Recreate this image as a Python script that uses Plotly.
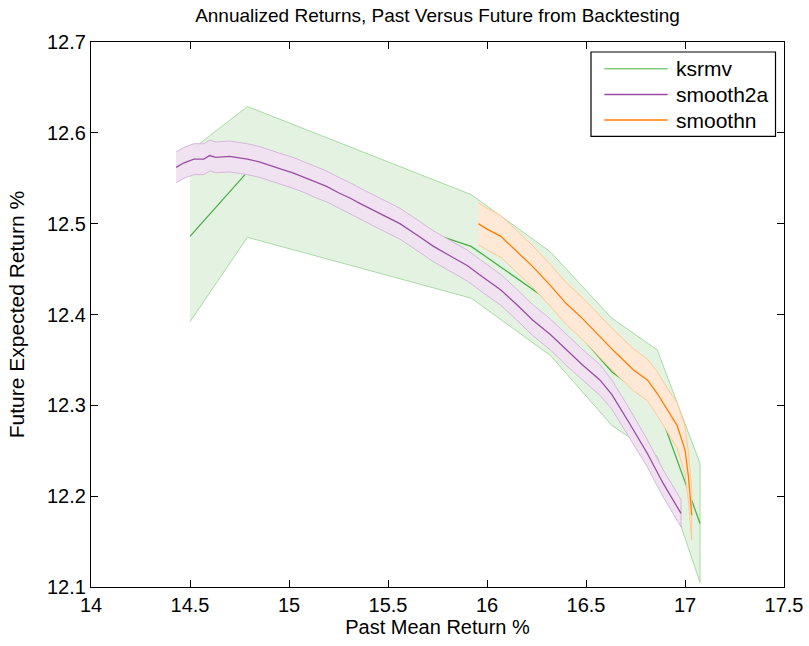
import plotly.graph_objects as go

# ---- data ----
ks_x = [14.50, 14.79, 15.92, 16.32, 16.63, 16.86, 17.076]
ks_y = [12.486, 12.557, 12.475, 12.414, 12.337, 12.300, 12.170]
ks_hi = [12.580, 12.629, 12.532, 12.469, 12.396, 12.361, 12.236]
ks_lo = [12.392, 12.485, 12.418, 12.355, 12.278, 12.244, 12.105]

s2_x = [14.43, 14.47, 14.52, 14.57, 14.60, 14.63, 14.70, 14.79, 14.85, 14.90,
        14.96, 15.02, 15.08, 15.13, 15.19, 15.25, 15.31, 15.36, 15.45, 15.56,
        15.65, 15.73, 15.81, 15.90, 15.98, 16.07, 16.15, 16.23, 16.32, 16.40,
        16.48, 16.57, 16.63, 16.72, 16.81, 16.89, 16.98]
s2_y = [12.562, 12.567, 12.571, 12.571, 12.575, 12.573, 12.574, 12.571, 12.568, 12.564,
        12.560, 12.556, 12.551, 12.546, 12.541, 12.534, 12.528, 12.522, 12.512, 12.500,
        12.487, 12.475, 12.465, 12.454, 12.441, 12.427, 12.411, 12.394, 12.378, 12.361,
        12.345, 12.328, 12.312, 12.280, 12.247, 12.214, 12.181]
s2_err = [0.017, 0.017, 0.017, 0.017, 0.017, 0.017, 0.017, 0.017, 0.017, 0.017,
          0.017, 0.017, 0.017, 0.017, 0.017, 0.017, 0.017, 0.017, 0.017, 0.017,
          0.017, 0.017, 0.017, 0.017, 0.017, 0.017, 0.017, 0.017, 0.017, 0.017,
          0.017, 0.017, 0.016, 0.016, 0.015, 0.015, 0.015]

sn_x = [15.956, 16.00, 16.07, 16.15, 16.23, 16.32, 16.40, 16.48, 16.57, 16.64,
        16.74, 16.81, 16.86, 16.91, 16.96, 17.00, 17.017, 17.034]
sn_y = [12.500, 12.494, 12.486, 12.470, 12.453, 12.432, 12.412, 12.396, 12.376, 12.360,
        12.339, 12.328, 12.313, 12.295, 12.278, 12.251, 12.222, 12.179]
sn_err = [0.023, 0.023, 0.023, 0.023, 0.023, 0.023, 0.023, 0.023, 0.023, 0.023,
          0.023, 0.023, 0.024, 0.024, 0.025, 0.026, 0.027, 0.027]

x_ticks = [14, 14.5, 15, 15.5, 16, 16.5, 17, 17.5]
x_tick_labels = ["14", "14.5", "15", "15.5", "16", "16.5", "17", "17.5"]
y_ticks = [12.1, 12.2, 12.3, 12.4, 12.5, 12.6, 12.7]
y_tick_labels = ["12.1", "12.2", "12.3", "12.4", "12.5", "12.6", "12.7"]

series_names = ["ksrmv", "smooth2a", "smoothn"]
line_colors = ["#4daf4a", "#984ea3", "#ff7f00"]
fill_colors = ["#e3f2e1", "#f0e2f1", "#ffe8d5"]
edge_colors = ["#a9dba5", "#d7b8dc", "#ffc995"]
legend_colors = ["#80cc80", "#984ea3", "#ff7f00"]

series = [
    (ks_x, ks_y, ks_hi, ks_lo),
    (s2_x, s2_y, [a + b for a, b in zip(s2_y, s2_err)], [a - b for a, b in zip(s2_y, s2_err)]),
    (sn_x, sn_y, [a + b for a, b in zip(sn_y, sn_err)], [a - b for a, b in zip(sn_y, sn_err)]),
]

FONT = "Liberation Sans, Arial, sans-serif"
fig = go.Figure()
for i, (xs, ys, hi, lo) in enumerate(series):
    fig.add_trace(go.Scatter(
        x=list(xs) + list(xs)[::-1], y=list(hi) + list(lo)[::-1],
        fill="toself", fillcolor=fill_colors[i], mode="lines",
        line=dict(color=edge_colors[i], width=1), showlegend=False, hoverinfo="skip"))
    fig.add_trace(go.Scatter(x=xs, y=ys, mode="lines", name=series_names[i],
                             line=dict(color=line_colors[i], width=1.3), showlegend=False))

W, H = 809, 646
L, R, T, B = 91, 784, 42, 587  # plot-area edges in pixels
def px(v):
    return (v - L) / (R - L)
def py(v):
    return (B - v) / (B - T)

# legend box
fig.add_shape(type="rect", xref="paper", yref="paper",
              x0=px(591), x1=px(775.5), y0=py(136.3), y1=py(52),
              line=dict(color="black", width=1.2), fillcolor="white", layer="above")
rows = [68.7, 94.5, 120.0]
for i, name in enumerate(series_names):
    fig.add_shape(type="line", xref="paper", yref="paper",
                  x0=px(604.3), x1=px(667.7), y0=py(rows[i]), y1=py(rows[i]),
                  line=dict(color=legend_colors[i], width=1.5), layer="above")
    fig.add_annotation(xref="paper", yref="paper", x=px(674), y=py(rows[i]),
                       text=name, showarrow=False, xanchor="left", yanchor="middle",
                       font=dict(family=FONT, size=21, color="black"))

axis_common = dict(showline=True, linecolor="black", linewidth=1.3, mirror="ticks",
                   ticks="inside", ticklen=7, tickcolor="black", tickwidth=1,
                   showgrid=False, zeroline=False, automargin=False,
                   tickfont=dict(family=FONT, size=20, color="black"))

fig.update_layout(
    width=W, height=H,
    margin=dict(l=L, r=W - R, t=T, b=H - B),
    paper_bgcolor="white", plot_bgcolor="white",
    font=dict(family=FONT, size=20, color="black"),
    showlegend=False,
    title=dict(text="Annualized Returns, Past Versus Future from Backtesting",
               x=((L + R) / 2) / W, xanchor="center", y=1 - 15 / H, yanchor="middle",
               yref="container", font=dict(family=FONT, size=19, color="black")),
    xaxis=dict(range=[14, 17.5], tickvals=x_ticks, ticktext=x_tick_labels,
               title=dict(text="Past Mean Return %", standoff=4,
                          font=dict(family=FONT, size=20)), **axis_common),
    yaxis=dict(range=[12.1, 12.7], tickvals=y_ticks, ticktext=y_tick_labels,
               title=dict(text="Future Expected Return %", standoff=16,
                          font=dict(family=FONT, size=21)), **axis_common),
)

fig.write_html(
    "out.html",
    config={"displayModeBar": False},
    post_script="document.body.style.margin='0';document.body.style.overflow='hidden';",
)
